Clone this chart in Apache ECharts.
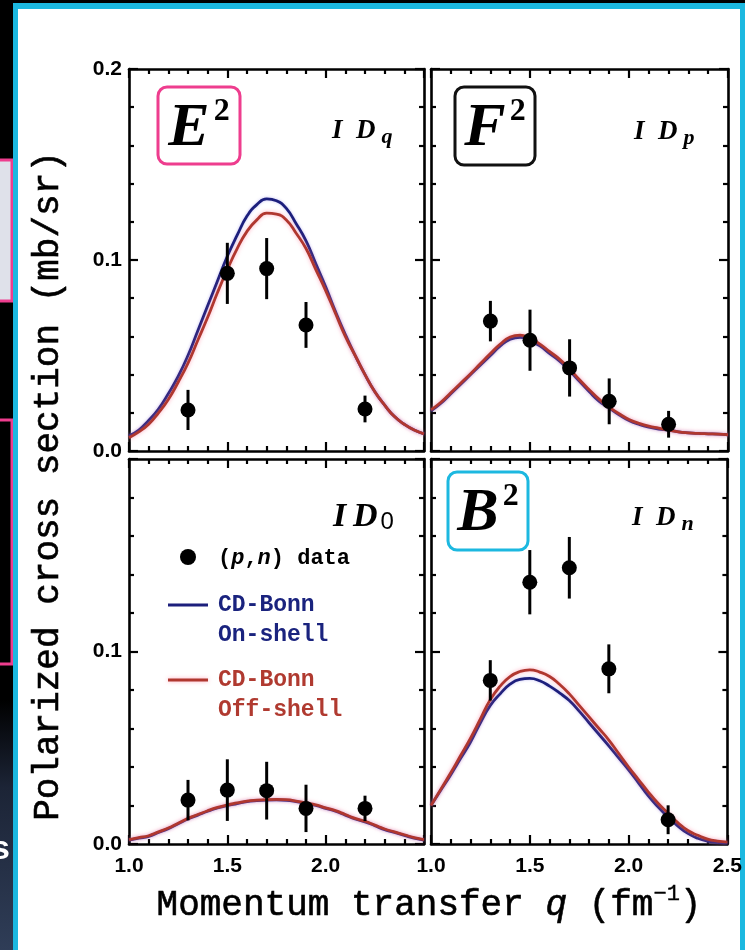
<!DOCTYPE html>
<html><head><meta charset="utf-8">
<script src="https://cdn.jsdelivr.net/npm/echarts/dist/echarts.min.js"></script>
<style>html,body{margin:0;padding:0;background:#000}#c{width:745px;height:950px}</style>
</head><body><div id="c"></div><script>
// ---- data ----
const qCurve = [1.00,1.05,1.10,1.15,1.20,1.25,1.30,1.35,1.40,1.45,1.50,1.55,1.60,1.65,1.70,1.75,1.80,1.85,1.90,1.95,2.00,2.05,2.10,2.15,2.20,2.25,2.30,2.35,2.40,2.45,2.50];
const qData = [1.3,1.5,1.7,1.9,2.2];
const xTicks = ['1.0','1.5','2.0','2.5'];
const yTicks = ['0.0','0.1','0.2'];

// E^2 panel (ID_q)
const dataE2 = [0.0215,0.093,0.0955,0.066,0.022];
const errE2  = [0.0105,0.016,0.016,0.012,0.007];
const onE2   = [0.008,0.011,0.016,0.022,0.030,0.039,0.050,0.063,0.076,0.089,0.102,0.113,0.123,0.129,0.132,0.131,0.127,0.119,0.110,0.098,0.086,0.073,0.061,0.050,0.040,0.031,0.024,0.018,0.014,0.011,0.009];
const offE2  = [0.007,0.010,0.014,0.020,0.027,0.036,0.046,0.058,0.070,0.083,0.095,0.106,0.115,0.121,0.1245,0.124,0.121,0.114,0.106,0.095,0.084,0.072,0.060,0.050,0.040,0.031,0.024,0.018,0.014,0.011,0.009];
// F^2 panel (ID_p)
const dataF2 = [0.068,0.058,0.0435,0.026,0.014];
const errF2  = [0.0106,0.016,0.015,0.012,0.007];
const onF2   = [0.021,0.025,0.030,0.035,0.040,0.045,0.050,0.055,0.0585,0.0595,0.0578,0.055,0.051,0.047,0.042,0.0365,0.031,0.026,0.0225,0.019,0.016,0.014,0.0125,0.0115,0.011,0.010,0.0095,0.0092,0.009,0.0088,0.0085];
const offF2  = [0.0215,0.0255,0.0305,0.0355,0.0405,0.0458,0.051,0.056,0.0597,0.0607,0.059,0.056,0.052,0.048,0.043,0.0373,0.032,0.027,0.023,0.0195,0.0165,0.0145,0.013,0.012,0.011,0.010,0.0095,0.0092,0.009,0.0088,0.0085];
// ID_0 panel
const dataI0 = [0.0228,0.028,0.0277,0.0185,0.0185];
const errI0  = [0.0105,0.016,0.015,0.0123,0.0066];
const onI0   = [0.002,0.003,0.004,0.006,0.008,0.0105,0.013,0.015,0.017,0.0187,0.020,0.021,0.022,0.0225,0.0228,0.0229,0.0227,0.022,0.021,0.020,0.0185,0.017,0.015,0.013,0.0115,0.0095,0.0075,0.006,0.0045,0.003,0.002];
const offI0  = [0.0023,0.0033,0.0043,0.0063,0.0083,0.0108,0.0133,0.0153,0.0173,0.019,0.0203,0.0213,0.0223,0.0228,0.0231,0.0232,0.023,0.0223,0.0213,0.0203,0.0188,0.0173,0.0153,0.0133,0.0118,0.0098,0.0078,0.0063,0.0048,0.0033,0.0023];
// B^2 panel (ID_n)
const dataB2 = [0.085,0.136,0.1435,0.091,0.0126];
const errB2  = [0.0105,0.0167,0.016,0.0127,0.0075];
const onB2   = [0.020,0.028,0.036,0.0445,0.053,0.063,0.072,0.078,0.083,0.0855,0.086,0.0848,0.082,0.0785,0.0745,0.069,0.063,0.057,0.051,0.0447,0.0385,0.0318,0.025,0.0192,0.014,0.0093,0.0055,0.003,0.0015,0.0008,0.0005];
const offB2  = [0.020,0.0285,0.037,0.046,0.055,0.065,0.075,0.082,0.087,0.0896,0.0905,0.0893,0.087,0.083,0.078,0.072,0.066,0.060,0.054,0.047,0.040,0.0335,0.027,0.021,0.016,0.011,0.007,0.0045,0.0025,0.0015,0.001];

const panels = [
  {on:onE2, off:offE2, d:dataE2, e:errE2},
  {on:onF2, off:offF2, d:dataF2, e:errF2},
  {on:onI0, off:offI0, d:dataI0, e:errI0},
  {on:onB2, off:offB2, d:dataB2, e:errB2}
];

// ---- styles ----
const BLUE = '#1c1f7c', RED = '#b0372f', PINK = '#ee3d8e', CYAN = '#1cb8e0';
const MONO = '"Liberation Mono", "DejaVu Sans Mono", monospace';
const SERIF = '"Liberation Serif", "DejaVu Serif", serif';
const SANS = '"Liberation Sans", Arial, sans-serif';

const grids = [
  {left:129, top:69, width:295, height:382},
  {left:431, top:69, width:297, height:382},
  {left:129, top:459, width:295, height:385},
  {left:431, top:459, width:297, height:385}
];

const lineStyle = {color:'#000', width:2.6};
function xAx(gi, pos, labels, showMax){
  return {type:'value', gridIndex:gi, position:pos, min:1.0, max:2.5, interval:0.5,
    axisLine:{show:true, onZero:false, lineStyle},
    axisTick:{show:true, inside:true, length:9, lineStyle:{width:2.2,color:'#000'}},
    minorTick:{show:true, splitNumber:5, length:5, lineStyle:{width:2.2,color:'#000'}},
    splitLine:{show:false}, minorSplitLine:{show:false},
    axisLabel:{show:labels, showMaxLabel:showMax, showMinLabel:true, margin:12,
      fontFamily:SANS, fontWeight:'bold', fontSize:21, color:'#000',
      formatter:(v)=>xTicks[Math.round((v-1.0)/0.5)]}
  };
}
function yAx(gi, pos, labels, showMax){
  return {type:'value', gridIndex:gi, position:pos, min:0, max:0.2, interval:0.1,
    axisLine:{show:true, onZero:false, lineStyle},
    axisTick:{show:true, inside:true, length:9, lineStyle:{width:2.2,color:'#000'}},
    minorTick:{show:true, splitNumber:5, length:5, lineStyle:{width:2.2,color:'#000'}},
    splitLine:{show:false}, minorSplitLine:{show:false},
    axisLabel:{show:labels, showMaxLabel:showMax, showMinLabel:true, margin:7,
      fontFamily:SANS, fontWeight:'bold', fontSize:21, color:'#000',
      formatter:(v)=>yTicks[Math.round(v/0.1)]}
  };
}

const xAxis = [
  xAx(0,'bottom',false,false), xAx(1,'bottom',false,false),
  xAx(2,'bottom',true,false),  xAx(3,'bottom',true,true),
  xAx(0,'top',false,false), xAx(1,'top',false,false),
  xAx(2,'top',false,false), xAx(3,'top',false,false)
];
const yAxis = [
  yAx(0,'left',true,true), yAx(1,'left',false,false),
  yAx(2,'left',true,false), yAx(3,'left',false,false),
  yAx(0,'right',false,false), yAx(1,'right',false,false),
  yAx(2,'right',false,false), yAx(3,'right',false,false)
];

const series = [];
panels.forEach((p, i) => {
  series.push({type:'line', xAxisIndex:i, yAxisIndex:i, smooth:true, showSymbol:false, silent:true,
    data: qCurve.map((q,k)=>[q,p.on[k]]),
    lineStyle:{color:BLUE, width:2.8, shadowColor:'rgba(120,110,230,0.45)', shadowBlur:3}, z:3});
  series.push({type:'line', xAxisIndex:i, yAxisIndex:i, smooth:true, showSymbol:false, silent:true,
    data: qCurve.map((q,k)=>[q,p.off[k]]),
    lineStyle:{color:RED, width:2.8, shadowColor:'rgba(255,120,150,0.6)', shadowBlur:4}, z:4});
  series.push({type:'custom', xAxisIndex:i, yAxisIndex:i, silent:true, z:5,
    data: qData.map((q,k)=>[q,p.d[k],p.e[k]]),
    renderItem:(params, api)=>{
      const x=api.value(0), y=api.value(1), e=api.value(2);
      const a=api.coord([x,y+e]), b=api.coord([x,y-e]);
      return {type:'line', shape:{x1:a[0],y1:a[1],x2:b[0],y2:b[1]}, style:{stroke:'#000', lineWidth:3}};
    }});
  series.push({type:'scatter', xAxisIndex:i, yAxisIndex:i, silent:true, z:6,
    symbol:'circle', symbolSize:15, itemStyle:{color:'#000', opacity:1},
    data: qData.map((q,k)=>[q,p.d[k]])});
});

function box(x,y,w,h,color,letter){
  return {type:'group', z:50, children:[
    {type:'rect', shape:{x:x,y:y,width:w,height:h,r:9}, style:{fill:'#fff', stroke:color, lineWidth:3}},
    {type:'text', x:x+w/2, y:y+h/2+3, style:{
      text:'{e|'+letter+'}{s|2}', align:'center', verticalAlign:'middle',
      rich:{e:{fontFamily:SERIF, fontStyle:'italic', fontWeight:'bold', fontSize:62, fill:'#000'},
            s:{fontFamily:SERIF, fontWeight:'bold', fontSize:32, fill:'#000', padding:[0,0,34,4]}}}}
  ]};
}
function idLabel(x,y,sub,big){
  const fs = big?34:27;
  return {type:'text', z:50, x:x, y:y, style:{
    text:(big?'{i|I\u2009D}':'{i|I\u2002D}')+'{s|'+sub+'}', align:'left', verticalAlign:'middle',
    rich:{i:{fontFamily:SERIF, fontStyle:'italic', fontWeight:'bold', fontSize:fs, fill:'#000'},
          s:{fontFamily: big?SANS:SERIF, fontStyle: big?'normal':'italic', fontWeight: big?'normal':'bold',
             fontSize: big?24:22, fill:'#000', padding: big?[10,0,0,3]:[13,0,0,6]}}}};
}

const graphic = [
  // slide background pieces
  {type:'rect', z:-20, shape:{x:0,y:700,width:13,height:250},
   style:{fill:new echarts.graphic.LinearGradient(0,0,0,1,[{offset:0,color:'#000'},{offset:0.35,color:'#1c2436'},{offset:1,color:'#2f3d57'}])}},
  {type:'rect', z:-20, shape:{x:-6,y:160,width:18,height:141}, style:{fill:'#dfe1ea', stroke:PINK, lineWidth:3}},
  {type:'rect', z:-20, shape:{x:-6,y:420,width:18,height:244}, style:{fill:'#000', stroke:PINK, lineWidth:3}},
  {type:'text', z:-19, x:-9, y:850, style:{text:'s', fontFamily:SANS, fontWeight:'bold', fontSize:34, fill:'#fff', verticalAlign:'middle'}},
  {type:'rect', z:-20, shape:{x:13,y:3,width:732,height:960}, style:{fill:CYAN}},
  {type:'rect', z:-19, shape:{x:18,y:9,width:722,height:960}, style:{fill:'#fff'}},
  // axis titles
  {type:'text', z:50, x:48, y:486, rotation:Math.PI/2, style:{
    text:'Polarized cross section (mb/sr)', align:'center', verticalAlign:'middle',
    fontFamily:MONO, fontSize:36, fill:'#000', stroke:'#000', lineWidth:0.6}},
  {type:'text', z:50, x:429, y:905, style:{
    text:'{t|Momentum transfer }{q|q}{t| (fm}{s|\u22121}{t|)}', align:'center', verticalAlign:'middle',
    rich:{t:{fontFamily:MONO, fontSize:36, fill:'#000', stroke:'#000', lineWidth:0.6},
          q:{fontFamily:MONO, fontStyle:'italic', fontSize:36, fill:'#000', stroke:'#000', lineWidth:0.6},
          s:{fontFamily:MONO, fontSize:22, fill:'#000', stroke:'#000', lineWidth:0.4, padding:[0,0,22,0]}}}},
  // panel tags
  box(158,87,82,77,PINK,'E'),
  box(455,87,80,78,'#111','F'),
  box(448,472,80,78,CYAN,'B'),
  idLabel(332,131,'q',false),
  idLabel(634,132,'p',false),
  idLabel(333,517,'0',true),
  idLabel(632,518,'n',false),
  // legend
  {type:'circle', z:50, shape:{cx:188, cy:557, r:8}, style:{fill:'#000'}},
  {type:'text', z:50, x:218, y:558, style:{
    text:'{b|(}{i|p}{b|,}{i|n}{b|) data}', verticalAlign:'middle',
    rich:{b:{fontFamily:MONO, fontWeight:'bold', fontSize:22, fill:'#000'},
          i:{fontFamily:MONO, fontWeight:'bold', fontStyle:'italic', fontSize:22, fill:'#000'}}}},
  {type:'line', z:50, shape:{x1:168,y1:605,x2:208,y2:605}, style:{stroke:BLUE, lineWidth:2.8}},
  {type:'text', z:50, x:218, y:605, style:{text:'CD-Bonn', verticalAlign:'middle', fontFamily:MONO, fontWeight:'bold', fontSize:23, fill:'#1a237e'}},
  {type:'text', z:50, x:218, y:635, style:{text:'On-shell', verticalAlign:'middle', fontFamily:MONO, fontWeight:'bold', fontSize:23, fill:'#1a237e'}},
  {type:'line', z:50, shape:{x1:168,y1:680,x2:208,y2:680}, style:{stroke:RED, lineWidth:2.8, shadowColor:'rgba(255,120,150,0.6)', shadowBlur:4}},
  {type:'text', z:50, x:218, y:680, style:{text:'CD-Bonn', verticalAlign:'middle', fontFamily:MONO, fontWeight:'bold', fontSize:23, fill:'#b03a30'}},
  {type:'text', z:50, x:218, y:710, style:{text:'Off-shell', verticalAlign:'middle', fontFamily:MONO, fontWeight:'bold', fontSize:23, fill:'#b03a30'}}
];

const chart = echarts.init(document.getElementById('c'), null, {renderer:'canvas'});
chart.setOption({
  backgroundColor:'#000',
  animation:false,
  grid: grids,
  xAxis, yAxis, series, graphic
});
</script></body></html>
